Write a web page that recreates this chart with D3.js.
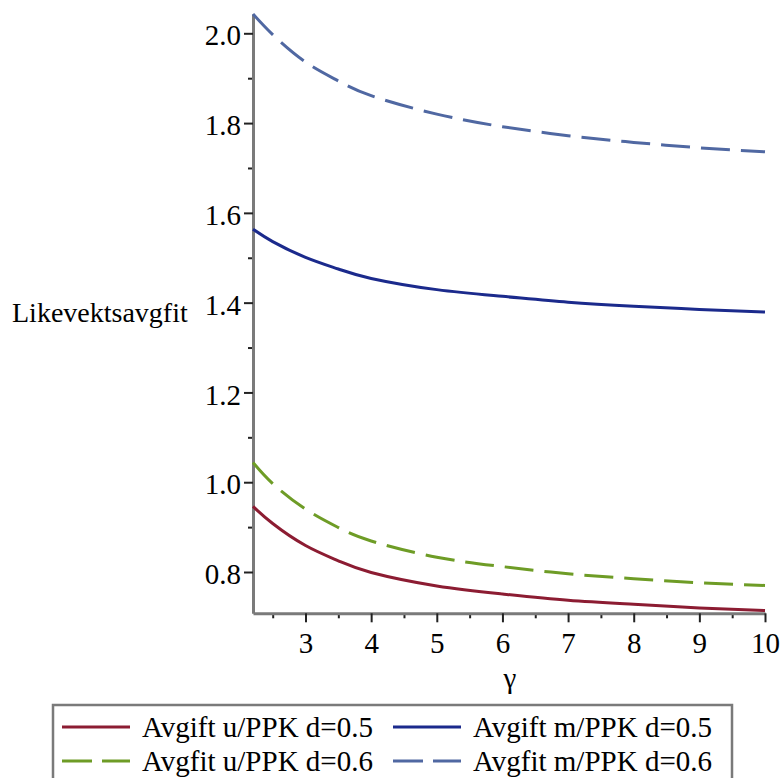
<!DOCTYPE html>
<html>
<head>
<meta charset="utf-8">
<script src="https://cdn.jsdelivr.net/npm/d3@7"></script>
<style>
    body { margin: 0; background: #fff; }
    svg text { font-family: "Liberation Serif", "Times New Roman", serif; fill: #000; }
</style>
</head>
<body>
<div id="chart"></div>
<script>
const gammaValues = [2.2, 2.5, 3, 3.5, 4, 5, 6, 7, 8, 9, 10];

// Likevektsavgift for each case
const avgiftUtenPPK05 = [0.946, 0.908, 0.859, 0.825, 0.799, 0.769, 0.751, 0.737, 0.728, 0.720, 0.714];
const avgiftMedPPK05 = [1.5635, 1.536, 1.501, 1.475, 1.454, 1.429, 1.414, 1.401, 1.392, 1.385, 1.379];
const avgfitUtenPPK06 = [1.044, 0.997, 0.940, 0.899, 0.869, 0.833, 0.812, 0.796, 0.785, 0.776, 0.770];
const avgfitMedPPK06 = [2.043, 1.997, 1.936, 1.894, 1.861, 1.820, 1.792, 1.772, 1.757, 1.745, 1.736];

const seriesNames = ['Avgift u/PPK d=0.5', 'Avgift m/PPK d=0.5', 'Avgfit u/PPK d=0.6', 'Avgfit m/PPK d=0.6'];

// axis ticks
const xTicks = [3, 4, 5, 6, 7, 8, 9, 10];
const xMinorTicks = [2.5, 3.5, 4.5, 5.5, 6.5, 7.5, 8.5, 9.5];
const yTicks = [0.8, 1.0, 1.2, 1.4, 1.6, 1.8, 2.0];
const yMinorTicks = [0.9, 1.1, 1.3, 1.5, 1.7, 1.9];

class LikevektChart {
    constructor(_config) {
        this.config = {
            parentElement: _config.parentElement,
            containerWidth: _config.containerWidth || 781,
            containerHeight: _config.containerHeight || 778
        };
        this.initVis();
    }

    initVis() {
        let vis = this;

        vis.svg = d3.select(vis.config.parentElement)
            .append('svg')
            .attr('width', vis.config.containerWidth)
            .attr('height', vis.config.containerHeight);

        // scales (plot area 253..765 x 14..613)
        vis.xScale = d3.scaleLinear().domain([2.2, 10]).range([253, 765]);
        vis.yScale = d3.scaleLinear().domain([0.708, 2.043]).range([613.3, 14]);

        vis.series = [
            { name: seriesNames[0], values: avgiftUtenPPK05, color: '#8c1c32', dash: null },
            { name: seriesNames[1], values: avgiftMedPPK05, color: '#1b2a8c', dash: null },
            { name: seriesNames[2], values: avgfitUtenPPK06, color: '#6e9c26', dash: '29,11' },
            { name: seriesNames[3], values: avgfitMedPPK06, color: '#5068a2', dash: '29,11' }
        ];
    }

    renderVis() {
        let vis = this;

        // Minor ticks first
        vis.svg.append('g')
            .attr('transform', 'translate(253,0)')
            .call(d3.axisLeft(vis.yScale).tickValues(yMinorTicks).tickSize(5).tickFormat(''))
            .call(g => g.select('.domain').remove())
            .call(g => g.selectAll('line').attr('stroke', '#222').attr('stroke-width', 2));

        vis.svg.append('g')
            .attr('transform', 'translate(0,613.3)')
            .call(d3.axisBottom(vis.xScale).tickValues(xMinorTicks).tickSize(5).tickFormat(''))
            .call(g => g.select('.domain').remove())
            .call(g => g.selectAll('line').attr('stroke', '#222').attr('stroke-width', 2));

        // Major ticks with labels
        vis.yAxisG = vis.svg.append('g')
            .attr('transform', 'translate(253,0)')
            .call(d3.axisLeft(vis.yScale).tickValues(yTicks).tickSize(9).tickPadding(3)
                .tickSizeOuter(0).tickFormat(d3.format('.1f')));

        vis.xAxisG = vis.svg.append('g')
            .attr('transform', 'translate(0,613.3)')
            .call(d3.axisBottom(vis.xScale).tickValues(xTicks).tickSize(9).tickPadding(10)
                .tickSizeOuter(0).tickFormat(d3.format('d')));

        [vis.yAxisG, vis.xAxisG].forEach(g => {
            g.select('.domain').attr('stroke', '#7a7a7a').attr('stroke-width', 3);
            g.selectAll('.tick line').attr('stroke', '#222').attr('stroke-width', 2);
            g.selectAll('.tick text')
                .attr('fill', '#000')
                .style('font-family', '"Liberation Serif", serif')
                .style('font-size', '29px');
        });
        vis.yAxisG.selectAll('.tick text').attr('dy', '0.4em');

        // Curves
        const line = d3.line()
            .x((d, i) => vis.xScale(gammaValues[i]))
            .y(d => vis.yScale(d))
            .curve(d3.curveNatural);

        vis.svg.append('g').selectAll('.curve')
            .data(vis.series)
            .join('path')
            .attr('class', 'curve')
            .attr('fill', 'none')
            .attr('stroke', d => d.color)
            .attr('stroke-width', 3)
            .attr('stroke-dasharray', d => d.dash)
            .attr('d', d => line(d.values));

        // Axis labels
        vis.svg.append('text')
            .attr('x', 12)
            .attr('y', 321.7)
            .style('font-size', '28px')
            .text('Likevektsavgfit');

        vis.svg.append('text')
            .attr('x', 510)
            .attr('y', 688)
            .attr('text-anchor', 'middle')
            .style('font-size', '29px')
            .text('γ');

        // Legend
        vis.legendG = vis.svg.append('g').attr('class', 'legend');

        vis.legendG.append('rect')
            .attr('x', 53)
            .attr('y', 705)
            .attr('width', 679)
            .attr('height', 100)
            .attr('fill', '#fff')
            .attr('stroke', '#7a7a7a')
            .attr('stroke-width', 2.5);

        const legendPos = [
            { x: 62, y: 727 }, { x: 393, y: 727 },
            { x: 62, y: 761 }, { x: 393, y: 761 }
        ];

        const items = vis.legendG.selectAll('.legend-item')
            .data(vis.series)
            .join('g')
            .attr('class', 'legend-item')
            .attr('transform', (d, i) => `translate(${legendPos[i].x}, ${legendPos[i].y})`);

        items.append('line')
            .attr('x1', 0)
            .attr('x2', 68)
            .attr('stroke', d => d.color)
            .attr('stroke-width', 3)
            .attr('stroke-dasharray', d => d.dash ? '30,10' : null);

        items.append('text')
            .attr('x', 80)
            .attr('y', 10)
            .style('font-size', '29px')
            .text(d => d.name);
    }
}

const chart = new LikevektChart({ parentElement: '#chart' });
chart.renderVis();
</script>
</body>
</html>
